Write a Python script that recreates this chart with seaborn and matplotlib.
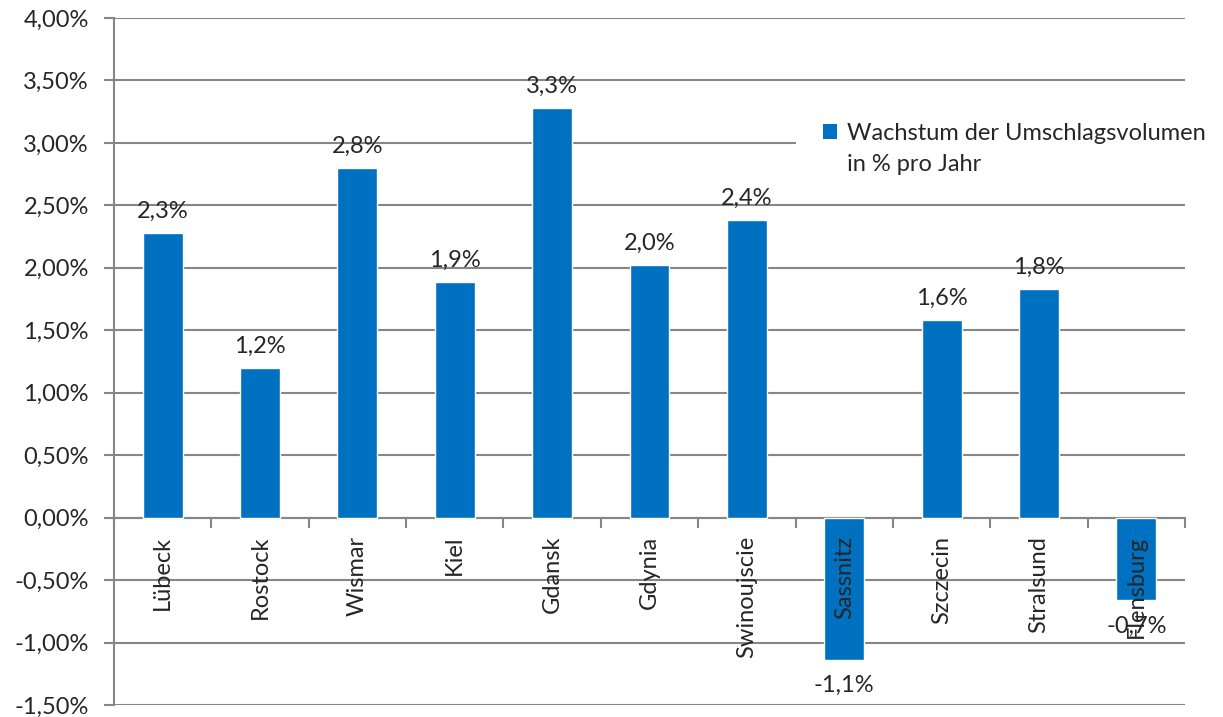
import matplotlib
matplotlib.use("Agg")
import matplotlib.pyplot as plt
import seaborn as sns
import pandas as pd
from matplotlib.patches import Patch

# Daten
haefen = ["Lübeck", "Rostock", "Wismar", "Kiel", "Gdansk", "Gdynia",
          "Swinoujscie", "Sassnitz", "Szczecin", "Stralsund", "Flensburg"]
wachstum = [2.28, 1.20, 2.80, 1.89, 3.28, 2.02, 2.38, -1.14, 1.58, 1.83, -0.66]
y_ticks = [-1.5, -1.0, -0.5, 0.0, 0.5, 1.0, 1.5, 2.0, 2.5, 3.0, 3.5, 4.0]
serie = "Wachstum der Umschlagsvolumen"
serie_2 = "in % pro Jahr"

df = pd.DataFrame({"hafen": haefen, "wachstum": wachstum})

blau = "#0070C0"
grau = "#868686"
fs = 17

sns.set_style("white")
plt.rcParams["font.family"] = ["Lato", "DejaVu Sans"]

fig = plt.figure(figsize=(12.23, 7.17), dpi=100)
ax = fig.add_axes([0.0932, 0.0167, 0.969 - 0.0932, 0.975 - 0.0167])

sns.barplot(data=df, x="hafen", y="wachstum", color=blau, width=0.41,
            saturation=1, ax=ax, zorder=3)

ax.set_ylim(-1.5, 4.0)
ax.set_xlim(-0.5, len(haefen) - 0.5)
ax.set_yticks(y_ticks)
ax.set_yticklabels([f"{v:.2f}%".replace(".", ",") for v in y_ticks], fontsize=fs)
ax.yaxis.grid(True, color=grau, linewidth=1.5, zorder=0)
ax.set_axisbelow(True)
ax.set_xlabel("")
ax.set_ylabel("")

for s in ["top", "right"]:
    ax.spines[s].set_visible(False)
ax.spines["left"].set_color(grau)
ax.spines["left"].set_linewidth(1.5)
ax.spines["bottom"].set_position(("data", 0))
ax.spines["bottom"].set_color(grau)
ax.spines["bottom"].set_linewidth(1.5)

ax.tick_params(axis="y", which="major", left=True, length=7, width=1.5,
               color=grau, pad=11)
# Kategorien als Text ueber den Balken (wie in Excel)
ax.set_xticks(range(len(haefen)))
ax.set_xticklabels([])
ax.tick_params(axis="x", which="major", length=0)
ax.set_xticks([i + 0.5 for i in range(-1, len(haefen))], minor=True)
ax.tick_params(axis="x", which="minor", bottom=True, length=7, width=1.5,
               color=grau, direction="out")
for i, name in enumerate(haefen):
    ax.annotate(name, (i, 0), xytext=(0, -13), textcoords="offset points",
                rotation=90, ha="center", va="top", fontsize=fs, zorder=6)

# Datenbeschriftungen
for i, v in enumerate(wachstum):
    txt = f"{v:.1f}%".replace(".", ",")
    if v >= 0:
        ax.annotate(txt, (i, v), xytext=(0, 8), textcoords="offset points",
                    ha="center", va="bottom", fontsize=fs, zorder=5)
    else:
        ax.annotate(txt, (i, v), xytext=(0, -11), textcoords="offset points",
                    ha="center", va="top", fontsize=fs, zorder=5)

handles = [Patch(facecolor=blau, edgecolor="none"),
           Patch(facecolor="none", edgecolor="none")]
leg = ax.legend(handles, [serie, serie_2], loc="upper left",
                bbox_to_anchor=(796 / 1223, 1 - 96 / 717),
                bbox_transform=fig.transFigure, frameon=True, fancybox=False,
                fontsize=fs, handlelength=0.6, handleheight=0.6,
                handletextpad=0.4, labelspacing=0.42, borderpad=1.15,
                borderaxespad=0)
leg.get_frame().set_facecolor("white")
leg.get_frame().set_edgecolor("none")
leg.get_frame().set_alpha(1)

fig.savefig("out.png", dpi=100)
